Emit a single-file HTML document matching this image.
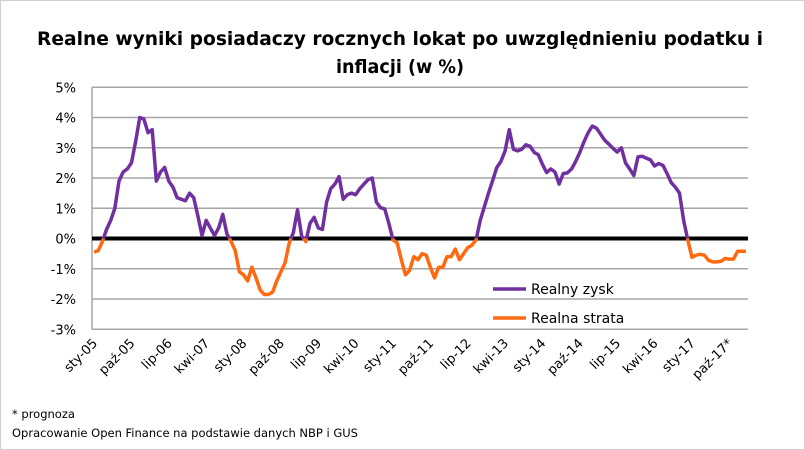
<!DOCTYPE html>
<html><head><meta charset="utf-8"><style>
html,body{margin:0;padding:0;background:#fff}
svg{display:block;font-family:"DejaVu Sans","Liberation Sans",sans-serif}
</style></head><body>
<svg id="chart" width="805" height="450" viewBox="0 0 805 450">
<rect x="0.5" y="0.5" width="804" height="449" fill="#fff" stroke="#d0d0d0"/>
<text x="400" y="45" text-anchor="middle" font-size="19" font-weight="bold" textLength="726" lengthAdjust="spacingAndGlyphs">Realne wyniki posiadaczy rocznych lokat po uwzględnieniu podatku i</text>
<text x="400" y="73" text-anchor="middle" font-size="19" font-weight="bold" textLength="128" lengthAdjust="spacingAndGlyphs">inflacji (w %)</text>
<g id="grid"></g><g id="yticks"></g><g id="xticks"></g><g id="series"></g>
<g>
<line x1="493" y1="289" x2="526" y2="289" stroke="#7030A0" stroke-width="3.5"/>
<text x="531" y="294" font-size="14">Realny zysk</text>
<line x1="493" y1="318" x2="526" y2="318" stroke="#FF6A10" stroke-width="3.5"/>
<text x="531" y="323" font-size="14">Realna strata</text>
</g>
<text x="12" y="418" font-size="11.5">* prognoza</text>
<text x="12" y="437" font-size="11.5">Opracowanie Open Finance na podstawie danych NBP i GUS</text>
</svg>
<script>
const yTickValues=[5,4,3,2,1,0,-1,-2,-3];
const xTickLabels=["sty-05","paź-05","lip-06","kwi-07","sty-08","paź-08","lip-09","kwi-10","sty-11","paź-11","lip-12","kwi-13","sty-14","paź-14","lip-15","kwi-16","sty-17","paź-17*"];
const xTickEvery=9;
const values=[-0.45,-0.4,-0.1,0.3,0.6,1.0,1.9,2.2,2.3,2.5,3.2,4.0,3.95,3.5,3.6,1.9,2.2,2.35,1.9,1.7,
1.35,1.3,1.25,1.5,1.35,0.75,0.1,0.6,0.35,0.1,0.35,0.8,0.15,-0.1,-0.4,-1.1,-1.2,-1.4,-0.95,-1.3,
-1.7,-1.85,-1.85,-1.77,-1.4,-1.1,-0.8,-0.15,0.2,0.95,0.08,-0.1,0.5,0.7,0.35,0.3,1.2,1.65,1.8,2.05,
1.3,1.45,1.5,1.45,1.65,1.8,1.95,2.0,1.2,1.02,0.98,0.5,-0.05,-0.14,-0.7,-1.2,-1.05,-0.6,-0.7,-0.5,
-0.55,-0.95,-1.3,-0.95,-0.95,-0.6,-0.6,-0.35,-0.7,-0.5,-0.3,-0.22,-0.05,0.6,1.05,1.5,1.92,2.35,2.55,2.9,
3.6,2.95,2.9,2.95,3.1,3.05,2.85,2.77,2.45,2.18,2.3,2.2,1.8,2.15,2.17,2.3,2.55,2.85,3.2,3.5,
3.72,3.65,3.45,3.25,3.12,2.98,2.86,3.0,2.5,2.3,2.08,2.7,2.72,2.66,2.6,2.4,2.48,2.42,2.15,1.85,
1.7,1.5,0.6,-0.05,-0.62,-0.55,-0.52,-0.55,-0.72,-0.77,-0.77,-0.75,-0.66,-0.68,-0.68,-0.42,-0.42,-0.42];

const NS="http://www.w3.org/2000/svg";
const L=92,R=748,T=87.3,B=329.3,yMax=5,yMin=-3;
const n=values.length, step=(R-L)/n;
const xScale=i=>L+(i+0.5)*step;
const yScale=v=>T+(yMax-v)/(yMax-yMin)*(B-T);
function mk(tag,attrs,parent){const e=document.createElementNS(NS,tag);for(const k in attrs)e.setAttribute(k,attrs[k]);parent.appendChild(e);return e;}
const grid=document.getElementById('grid'),yt=document.getElementById('yticks'),xt=document.getElementById('xticks'),ser=document.getElementById('series');
yTickValues.forEach(v=>{
  if(v!==0){const g=mk('line',{x1:L,x2:R,y1:yScale(v),y2:yScale(v),stroke:'#a6a6a6','stroke-width':1.5},grid);
  
  }
  const t=mk('text',{x:76,y:yScale(v)+5,'text-anchor':'end','font-size':13},yt);
  t.textContent=v+'%';
  
  
});
const ax=mk('line',{x1:L,x2:L,y1:T,y2:B,stroke:'#a6a6a6','stroke-width':1.5},grid);


xTickLabels.forEach((s,k)=>{
  const x=xScale(k*xTickEvery)+4,y=344;
  const t=mk('text',{x:x,y:y,'text-anchor':'end','font-size':13,transform:`rotate(-45 ${x} ${y})`},xt);
  t.textContent=s;
  
  
});
let segs=[],cur=null;
for(let i=0;i<n;i++){
  const v=values[i],pos=v>=0,p=[xScale(i),yScale(v)];
  if(cur&&cur.pos!==pos){
    const v0=values[i-1],f=v0/(v0-v),cx=xScale(i-1)+f*step,cy=yScale(0);
    cur.pts.push([cx,cy]);segs.push(cur);cur={pos:pos,pts:[[cx,cy]]};
  }
  if(!cur)cur={pos:pos,pts:[]};
  cur.pts.push(p);
}
segs.push(cur);
const zl=mk('line',{x1:L,x2:R,y1:yScale(0),y2:yScale(0),stroke:'#000','stroke-width':4},ser);


segs.forEach(s=>{
  const pl=mk('polyline',{points:s.pts.map(p=>p.join(',')).join(' '),fill:'none',stroke:s.pos?'#7030A0':'#FF6A10','stroke-width':3.5,'stroke-linejoin':'round'},ser);
  
  
});
</script>
</body></html>
